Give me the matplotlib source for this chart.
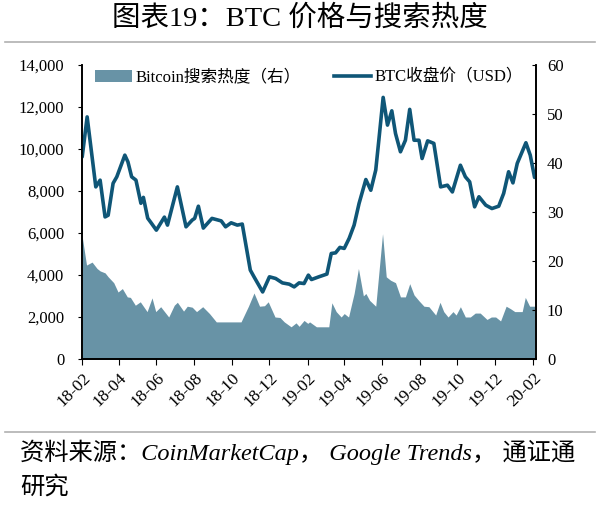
import numpy as np
import pandas as pd
import matplotlib
matplotlib.use("Agg")
import matplotlib.pyplot as plt
import matplotlib.dates as mdates
from matplotlib.patches import Patch
from matplotlib.lines import Line2D
from matplotlib.ticker import FuncFormatter

# BTC closing price (USD)
price_dates = [
    "2018-02-01", "2018-02-09", "2018-02-23", "2018-03-02", "2018-03-10", "2018-03-15",
    "2018-03-23", "2018-03-29", "2018-04-11", "2018-04-16", "2018-04-22", "2018-04-29",
    "2018-05-07", "2018-05-11", "2018-05-18", "2018-05-24", "2018-06-01", "2018-06-14",
    "2018-06-19", "2018-07-05", "2018-07-19", "2018-07-29", "2018-08-02", "2018-08-08",
    "2018-08-16", "2018-08-30", "2018-09-14", "2018-09-21", "2018-09-30", "2018-10-10",
    "2018-10-18", "2018-10-31", "2018-11-06", "2018-11-20", "2018-12-01", "2018-12-11",
    "2018-12-22", "2019-01-02", "2019-01-10", "2019-01-18", "2019-01-26", "2019-02-02",
    "2019-02-07", "2019-02-19", "2019-03-04", "2019-03-11", "2019-03-18", "2019-03-25",
    "2019-04-01", "2019-04-09", "2019-04-17", "2019-04-25", "2019-05-06", "2019-05-14",
    "2019-05-22", "2019-05-27", "2019-06-03", "2019-06-10", "2019-06-17", "2019-06-23",
    "2019-07-01", "2019-07-09", "2019-07-16", "2019-07-23", "2019-07-31", "2019-08-05",
    "2019-08-14", "2019-08-24", "2019-09-04", "2019-09-15", "2019-09-23", "2019-10-06",
    "2019-10-14", "2019-10-21", "2019-10-29", "2019-11-05", "2019-11-16", "2019-11-26",
    "2019-12-07", "2019-12-15", "2019-12-23", "2019-12-30", "2020-01-06", "2020-01-20",
    "2020-01-27", "2020-02-03",
]
price_values = [
    9630, 11530, 8200, 8520, 6770, 6850,
    8370, 8680, 9710, 9390, 8680, 8520,
    7420, 7700, 6710, 6470, 6140, 6760,
    6380, 8200, 6300, 6620, 6700, 7280,
    6240, 6700, 6580, 6300, 6490, 6380,
    6430, 4240, 3920, 3200, 3920, 3840,
    3630, 3570, 3440, 3630, 3600, 4000,
    3790, 3920, 4050, 5030, 5060, 5320,
    5270, 5750, 6380, 7410, 8550, 8040,
    9000, 10420, 12460, 11140, 11820, 10740,
    9870, 10420, 11890, 10420, 10420, 9550,
    10390, 10270, 8200, 8280, 7960, 9230,
    8680, 8440, 7250, 7730, 7330, 7170,
    7280, 7890, 8920, 8390, 9320, 10300,
    9710, 8650,
]

# Google Trends search interest for "Bitcoin" (right axis)
search_dates = [
    "2018-02-01", "2018-02-08", "2018-02-17", "2018-02-25", "2018-03-02", "2018-03-10",
    "2018-03-15", "2018-03-24", "2018-03-31", "2018-04-07", "2018-04-15", "2018-04-20",
    "2018-04-28", "2018-05-06", "2018-05-17", "2018-05-25", "2018-05-31", "2018-06-08",
    "2018-06-21", "2018-06-30", "2018-07-05", "2018-07-15", "2018-07-21", "2018-07-29",
    "2018-08-05", "2018-08-15", "2018-08-26", "2018-09-06", "2018-10-16", "2018-10-28",
    "2018-11-06", "2018-11-15", "2018-11-23", "2018-11-29", "2018-12-10", "2018-12-18",
    "2018-12-25", "2019-01-05", "2019-01-13", "2019-01-18", "2019-01-26", "2019-02-01",
    "2019-02-04", "2019-02-15", "2019-03-07", "2019-03-12", "2019-03-19", "2019-03-27",
    "2019-04-01", "2019-04-08", "2019-04-17", "2019-04-24", "2019-05-02", "2019-05-06",
    "2019-05-12", "2019-05-22", "2019-06-02", "2019-06-08", "2019-06-15", "2019-06-23",
    "2019-07-01", "2019-07-09", "2019-07-16", "2019-07-23", "2019-07-31", "2019-08-08",
    "2019-08-16", "2019-08-27", "2019-09-03", "2019-09-09", "2019-09-16", "2019-09-24",
    "2019-09-29", "2019-10-06", "2019-10-14", "2019-10-22", "2019-10-30", "2019-11-07",
    "2019-11-18", "2019-11-25", "2019-12-02", "2019-12-10", "2019-12-19", "2019-12-26",
    "2020-01-02", "2020-01-14", "2020-01-19", "2020-01-26", "2020-02-03",
]
search_values = [
    25.0, 19.2, 19.8, 18.5, 18.0, 17.6,
    16.8, 15.6, 13.7, 14.4, 12.7, 12.6,
    11.0, 11.7, 9.7, 12.5, 9.7, 10.7,
    8.6, 11.0, 11.6, 9.8, 10.8, 10.6,
    9.7, 10.7, 9.3, 7.6, 7.6, 10.8,
    13.5, 10.8, 10.9, 11.7, 8.6, 8.5,
    7.6, 6.6, 7.4, 6.7, 7.9, 7.3,
    7.6, 6.6, 6.6, 11.5, 9.7, 8.6,
    9.3, 8.6, 13.4, 18.5, 12.9, 13.4,
    12.0, 10.8, 25.6, 16.8, 16.1, 15.6,
    12.7, 12.7, 15.4, 13.1, 11.9, 10.8,
    10.7, 9.0, 11.6, 9.7, 8.6, 9.7,
    9.0, 10.7, 8.6, 8.6, 9.4, 9.4,
    8.1, 8.6, 8.6, 7.8, 10.8, 10.3,
    9.7, 9.7, 12.6, 10.8, 10.8,
]

price_ticks = [0, 2000, 4000, 6000, 8000, 10000, 12000, 14000]
search_ticks = [0, 10, 20, 30, 40, 50, 60]

title_text = "图表19：BTC 价格与搜索热度"
source_line1 = "资料来源：CoinMarketCap， Google Trends， 通证通"
source_line2 = "研究"
legend_area = "Bitcoin搜索热度（右）"
legend_line = "BTC收盘价（USD）"

SERIF = ["Liberation Serif", "Noto Sans CJK SC", "DejaVu Sans"]
plt.rcParams["font.family"] = SERIF

area_color = "#6893a6"
line_color = "#0f5677"

fig = plt.figure(figsize=(6.0, 5.08), dpi=100)
ax = fig.add_axes([0.137, 0.293, 0.756, 0.579])
ax2 = ax.twinx()

p_dates = pd.to_datetime(price_dates)
s_dates = pd.to_datetime(search_dates)

# area on the right axis, price line on top
ax2.fill_between(s_dates, 0, search_values, color=area_color, lw=0)
ax.plot(p_dates, price_values, color=line_color, lw=2.6, solid_capstyle="round")
ax.set_zorder(ax2.get_zorder() + 1)
ax.patch.set_visible(False)

ax.set_xlim(pd.Timestamp("2018-02-01"), pd.Timestamp("2020-02-05"))
ax.set_ylim(0, 14000)
ax2.set_ylim(0, 60)
ax.set_yticks(price_ticks)
ax2.set_yticks(search_ticks)
ax.yaxis.set_major_formatter(FuncFormatter(lambda v, p: f"{int(v):,}"))

ax.xaxis.set_major_locator(mdates.MonthLocator(bymonth=[2, 4, 6, 8, 10, 12]))
ax.xaxis.set_major_formatter(mdates.DateFormatter("%y-%m"))
for lbl in ax.get_xticklabels():
    lbl.set_rotation(45)
    lbl.set_ha("right")
    lbl.set_rotation_mode("anchor")

for a in (ax, ax2):
    a.spines["top"].set_visible(False)
    for s in ("left", "right", "bottom"):
        a.spines[s].set_linewidth(1.2)
ax.tick_params(axis="y", direction="out", length=3, labelsize=12, pad=10)
ax.tick_params(axis="x", direction="out", length=4, labelsize=12.5, pad=4)
ax2.tick_params(axis="y", direction="in", length=3, labelsize=12, pad=8)

handles = [Patch(facecolor=area_color, edgecolor="none"),
           Line2D([0], [0], color=line_color, lw=2.6)]
ax.legend(handles, [legend_area, legend_line], ncol=2, frameon=False,
          loc="upper center", bbox_to_anchor=(0.5, 1.035), fontsize=12,
          handlelength=2.2, handletextpad=0.2, columnspacing=2.0)

# title, rules and source note
fig.text(0.5, 0.963, title_text, ha="center", va="center", fontsize=20.5,
         family=SERIF)
fig.add_artist(Line2D([0.008, 0.992], [0.918, 0.918], color="#b0b0b0", lw=1.2))
fig.add_artist(Line2D([0.008, 0.992], [0.150, 0.150], color="#b0b0b0", lw=1.2))
fig.text(0.033, 0.109, source_line1, ha="left", va="center", fontsize=17.5,
         style="italic", family=SERIF)
fig.text(0.033, 0.040, source_line2, ha="left", va="center", fontsize=17.5,
         style="italic", family=SERIF)

fig.savefig("out.png", dpi=100)
